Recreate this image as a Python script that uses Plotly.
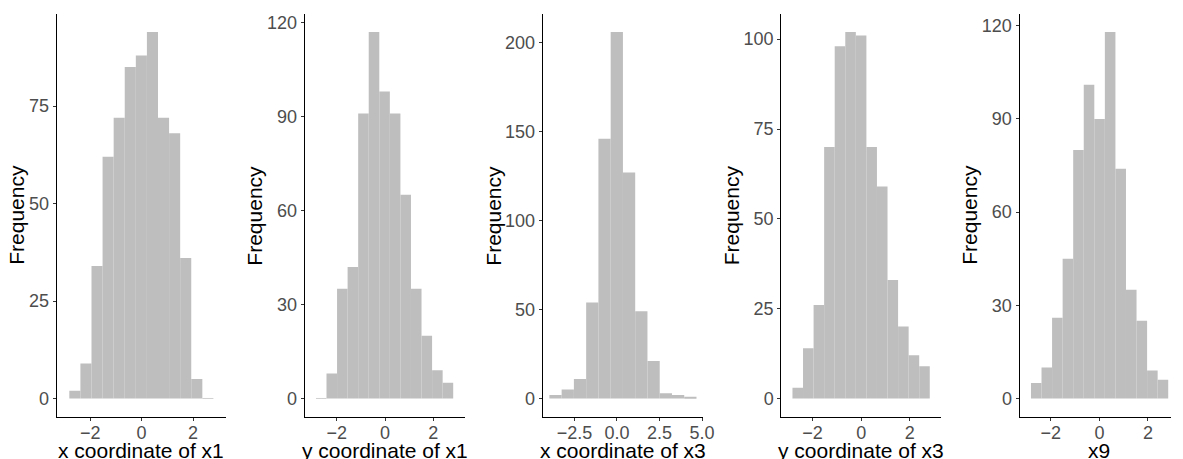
import plotly.graph_objects as go

# ---------------- data ----------------
titles_x = ["x coordinate of x1", "y coordinate of x1", "x coordinate of x3",
            "y coordinate of x3", "x9"]

counts_p1 = [2, 9, 34, 62, 72, 85, 88, 94, 72, 68, 36, 5, 0]
counts_p2 = [0, 8, 35, 42, 91, 117, 98, 91, 65, 35, 20, 9, 5]
counts_p3 = [2, 5, 11, 54, 146, 206, 127, 49, 21, 3, 2, 1]
counts_p4 = [3, 14, 26, 70, 98, 102, 101, 70, 59, 33, 20, 12, 9]
counts_p5 = [5, 10, 26, 45, 80, 101, 90, 118, 74, 35, 25, 9, 6]

bin_start = [-2.81, -2.86, -3.97, -2.83, -2.82]
bin_width = [0.431, 0.437, 0.72, 0.435, 0.435]

y_tickvals = [[0, 25, 50, 75], [0, 30, 60, 90, 120], [0, 50, 100, 150, 200],
              [0, 25, 50, 75, 100], [0, 30, 60, 90, 120]]
x_tickvals = [[-2, 0, 2], [-2, 0, 2], [-2.5, 0.0, 2.5, 5.0], [-2, 0, 2], [-2, 0, 2]]
x_ticktext = [["\u22122", "0", "2"], ["\u22122", "0", "2"],
              ["\u22122.5", "0.0", "2.5", "5.0"], ["\u22122", "0", "2"],
              ["\u22122", "0", "2"]]

all_counts = [counts_p1, counts_p2, counts_p3, counts_p4, counts_p5]

# ---------------- layout (pixels) ----------------
W, H = 1183, 459
panel_px = [(57.3, 228.0), (307.7, 469.3), (548.3, 710.0), (789.3, 950.7), (1030.0, 1183.0)]
x_ranges = [(-3.30, 3.27), (-3.33, 3.29), (-4.36, 5.04), (-3.29, 3.29), (-3.29, 2.95)]
ytitle_px = [16.7, 257.0, 498.5, 738.5, 979.5]
xtitle_center_px = [142.7, 388.5, 629.2, 870.0, 1110.7]
top_px, bot_px = 12.7, 416.7

FONT = "Liberation Sans, Arial, sans-serif"
BAR = "#BEBEBE"

def px_x(p):
    return p / W

def px_y(p):
    return 1 - p / H

fig = go.Figure()
annotations = []
layout = {}

for i in range(5):
    counts = all_counts[i]
    n = len(counts)
    w = bin_width[i]
    centers = [bin_start[i] + w * (k + 0.5) for k in range(n)]
    suffix = "" if i == 0 else str(i + 1)
    xa, ya = "x" + suffix, "y" + suffix

    fig.add_trace(go.Bar(x=centers, y=counts, width=[w] * n, marker=dict(color=BAR, line=dict(width=0)),
                         xaxis=xa, yaxis=ya, showlegend=False, hoverinfo="x+y"))
    # zero-count bins drawn as a flat line, like ggplot's zero-height rects
    for k, c in enumerate(counts):
        if c == 0:
            fig.add_trace(go.Scatter(x=[bin_start[i] + w * k, bin_start[i] + w * (k + 1)], y=[0, 0],
                                     mode="lines", line=dict(color="#D0D0D0", width=1),
                                     xaxis=xa, yaxis=ya, showlegend=False, hoverinfo="skip"))

    ymax = max(counts)
    common = dict(showline=True, linecolor="#000000", linewidth=1.1, ticks="outside", ticklen=3,
                  tickcolor="#333333", tickwidth=1, showgrid=False, zeroline=False,
                  tickfont=dict(family=FONT, size=18, color="#4D4D4D"))
    layout["xaxis" + suffix] = dict(common, domain=[px_x(panel_px[i][0]), px_x(panel_px[i][1])],
                                    range=list(x_ranges[i]), anchor=ya, ticklabelstandoff=-3,
                                    tickvals=x_tickvals[i], ticktext=x_ticktext[i])
    layout["yaxis" + suffix] = dict(common, domain=[px_y(bot_px), px_y(top_px)],
                                    range=[-0.05 * ymax, 1.05 * ymax], anchor=xa,
                                    tickvals=y_tickvals[i])

    annotations.append(dict(text="Frequency", textangle=-90, xref="paper", yref="paper",
                            x=px_x(ytitle_px[i]), y=px_y((top_px + bot_px) / 2),
                            xanchor="center", yanchor="middle", showarrow=False,
                            font=dict(family=FONT, size=21, color="#000000")))
    annotations.append(dict(text=titles_x[i], xref="paper", yref="paper",
                            x=px_x(xtitle_center_px[i]), y=px_y(450.5),
                            xanchor="center", yanchor="middle", showarrow=False,
                            font=dict(family=FONT, size=21, color="#000000")))

fig.update_layout(width=W, height=H, margin=dict(l=0, r=0, t=0, b=0),
                  paper_bgcolor="white", plot_bgcolor="white",
                  annotations=annotations, **layout)

fig.write_html("out.html", config={"displayModeBar": False},
               post_script="document.body.style.margin='0px';document.body.style.overflow='hidden';")
